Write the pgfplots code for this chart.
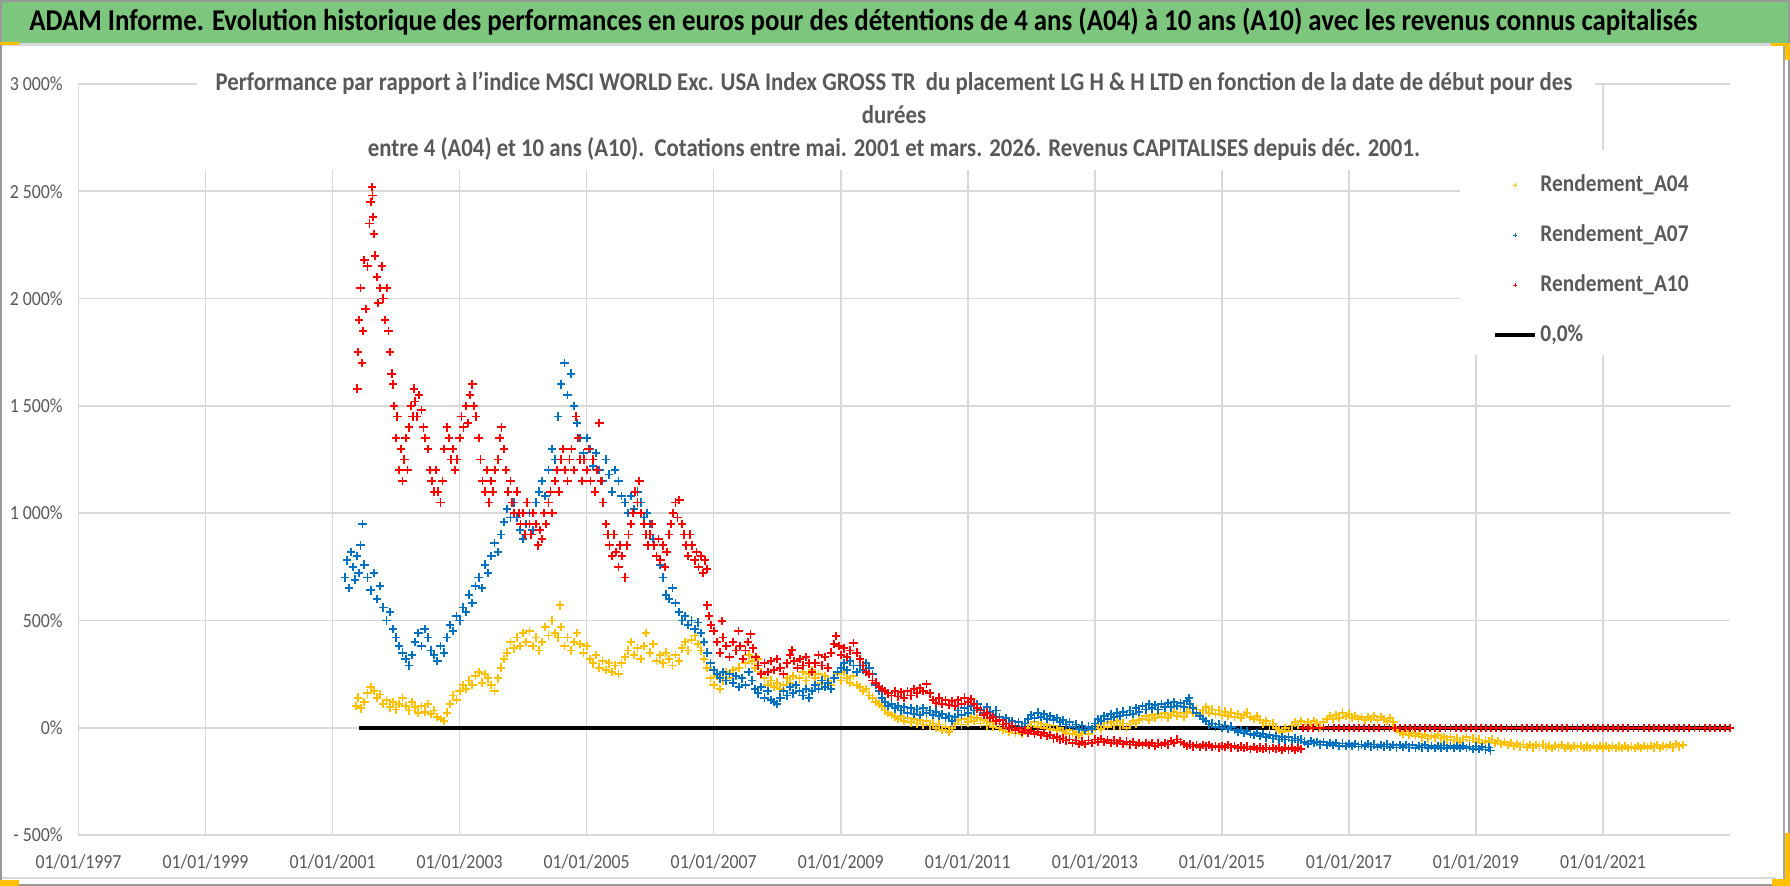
\documentclass[border=0pt]{standalone}
\usepackage{fontspec}
\setmainfont{Carlito}[FakeStretch=0.89]
\usepackage{pgfplots}
\pgfplotsset{compat=1.18}
\definecolor{a04}{HTML}{FFC000}
\definecolor{a07}{HTML}{0070C0}
\definecolor{a10}{HTML}{FF0000}
\definecolor{txtgray}{HTML}{595959}
\definecolor{gridgray}{HTML}{D9D9D9}
\definecolor{titlegreen}{HTML}{7DC67D}
\definecolor{handle}{HTML}{FFC000}
\pgfplotsset{
  legmark/.style={legend image code/.code={\draw[mark repeat=2,mark phase=2,##1,mark size=1pt,line width=0.5pt] plot coordinates {(0pt,0pt)(10pt,0pt)(20pt,0pt)};}},
  legline/.style={legend image code/.code={\draw[##1] (0pt,0pt) -- (20pt,0pt);}},
}
\begin{document}
\begin{tikzpicture}
\useasboundingbox (0,0) rectangle (895pt,443pt);
% chart frame and title band
\fill[white] (0,0) rectangle (895pt,443pt);
\fill[titlegreen] (1pt,421.5pt) rectangle (894pt,442pt);
\draw[gridgray, line width=1.5pt] (1pt,420.8pt) -- (886pt,420.8pt);
\draw[gridgray, line width=1pt] (1pt,4pt) -- (888pt,4pt);
\draw[gray!70, line width=0.8pt] (892pt,2pt) -- (892pt,420pt);
\draw[gray!80, line width=1pt] (0.5pt,0.5pt) rectangle (894.5pt,442.5pt);
\node[anchor=west, inner sep=0pt, font=\fontsize{15.1}{16}\selectfont\bfseries] at (14.5pt,432pt)
  {ADAM Informe. Evolution historique des performances en euros pour des détentions de 4 ans (A04) à 10 ans (A10) avec les revenus connus capitalisés};

\begin{axis}[
  at={(39.25pt,25.5pt)}, anchor=south west,
  scale only axis, width=825.75pt, height=375.5pt,
  xmin=1997, xmax=2023, ymin=-500, ymax=3000,
  axis line style={draw=none},
  major tick length=0pt,
  xtick={1997,1999,2001,2003,2005,2007,2009,2011,2013,2015,2017,2019,2021},
  xticklabels={01/01/1997,01/01/1999,01/01/2001,01/01/2003,01/01/2005,01/01/2007,01/01/2009,01/01/2011,01/01/2013,01/01/2015,01/01/2017,01/01/2019,01/01/2021},
  ytick={-500,0,500,1000,1500,2000,2500,3000},
  yticklabels={- 500\%,0\%,500\%,1 000\%,1 500\%,2 000\%,2 500\%,3 000\%},
  grid=major,
  major grid style={draw=gridgray, line width=0.8pt},
  ticklabel style={text=txtgray, font=\fontsize{10}{11}\selectfont},
  yticklabel style={anchor=east, inner sep=0pt, xshift=-7.75pt},
  xticklabel style={anchor=center, inner sep=0pt, yshift=-13.5pt},
  legend cell align=left,
  legend style={at={(0.8565,0.882)}, anchor=north west, draw=none, fill=none,
    inner sep=0pt, row sep=13pt, column sep=1.5pt,
    font=\fontsize{12}{14}\selectfont\bfseries, text=txtgray,
    nodes={inner sep=0pt, text height=9pt, text depth=3pt}},
  every axis plot/.append style={only marks, mark=+, mark size=2.1pt, line width=0.9pt},
]
\fill[white] (rel axis cs:0.8365,0.639) rectangle (rel axis cs:1,0.912);

\addplot[color=a04, legmark] coordinates {
(2001.37,100) (2001.40,140) (2001.45,90) (2001.50,120) (2001.55,160) (2001.60,190) (2001.65,170) (2001.70,140)
(2001.75,155) (2001.80,110) (2001.85,130) (2001.90,95) (2001.95,120) (2002.00,85) (2002.05,110) (2002.10,140)
(2002.15,100) (2002.20,80) (2002.25,120) (2002.30,95) (2002.35,70) (2002.40,100) (2002.45,75) (2002.50,110)
(2002.55,65) (2002.60,80) (2002.65,50) (2002.70,40) (2002.75,30) (2002.80,70) (2002.85,110) (2002.90,150)
(2002.95,130) (2003.00,170) (2003.05,200) (2003.10,180) (2003.15,220) (2003.20,200) (2003.25,240) (2003.30,260)
(2003.35,210) (2003.40,250) (2003.45,230) (2003.50,200) (2003.55,170) (2003.60,230) (2003.65,280) (2003.70,320)
(2003.75,350) (2003.80,400) (2003.85,370) (2003.90,420) (2003.95,380) (2004.00,440) (2004.05,400) (2004.10,450)
(2004.15,380) (2004.20,420) (2004.25,360) (2004.30,400) (2004.35,470) (2004.40,430) (2004.45,500) (2004.50,440)
(2004.55,420) (2004.58,570) (2004.60,470) (2004.65,380) (2004.70,420) (2004.75,360) (2004.80,400) (2004.85,440)
(2004.90,390) (2004.95,350) (2005.00,380) (2005.05,320) (2005.10,300) (2005.15,340) (2005.20,280) (2005.25,310)
(2005.30,270) (2005.35,300) (2005.40,260) (2005.45,290) (2005.50,250) (2005.55,300) (2005.60,330) (2005.65,360)
(2005.70,400) (2005.75,340) (2005.80,370) (2005.85,320) (2005.90,380) (2005.93,440) (2006.00,350) (2006.05,390)
(2006.10,310) (2006.15,340) (2006.20,300) (2006.25,350) (2006.30,320) (2006.35,290) (2006.40,340) (2006.45,310)
(2006.50,370) (2006.55,400) (2006.60,360) (2006.65,410) (2006.70,430) (2006.75,390) (2006.80,360) (2006.85,320)
(2006.90,280) (2006.95,230) (2007.00,200) (2007.05,240) (2007.10,180) (2007.15,220) (2007.20,260) (2007.25,230)
(2007.30,270) (2007.35,240) (2007.40,280) (2007.45,230) (2007.50,300) (2007.55,340) (2007.60,310) (2007.65,280)
(2007.70,320) (2007.75,260) (2007.80,230) (2007.85,200) (2007.90,220) (2007.95,190) (2008.00,210) (2008.05,180)
(2008.10,200) (2008.15,230) (2008.20,210) (2008.25,240) (2008.30,200) (2008.35,230) (2008.40,260) (2008.45,220)
(2008.50,250) (2008.55,270) (2008.60,230) (2008.65,250) (2008.70,210) (2008.75,240) (2008.80,220) (2008.85,200)
(2008.90,230) (2008.95,250) (2009.00,220) (2009.05,260) (2009.10,230) (2009.15,210) (2009.20,240) (2009.25,200)
(2009.30,190) (2009.35,170) (2009.40,180) (2009.45,150) (2009.50,140) (2009.55,120) (2009.60,110) (2009.65,100)
(2009.70,80) (2009.75,70) (2009.80,60) (2009.85,50) (2009.90,40) (2009.95,55) (2010.00,30) (2010.05,45)
(2010.10,25) (2010.15,40) (2010.20,20) (2010.25,35) (2010.30,15) (2010.35,30) (2010.40,10) (2010.45,20)
(2010.50,0) (2010.55,15) (2010.60,-10) (2010.65,5) (2010.70,-20) (2010.75,0) (2010.80,20) (2010.85,35)
(2010.90,15) (2010.95,40) (2011.00,25) (2011.05,50) (2011.10,30) (2011.15,45) (2011.20,20) (2011.25,35)
(2011.30,10) (2011.35,25) (2011.40,5) (2011.45,20) (2011.50,0) (2011.55,-10) (2011.60,5) (2011.65,-20)
(2011.70,-5) (2011.75,-25) (2011.80,-10) (2011.85,-28) (2011.90,-15) (2011.95,0) (2012.00,10) (2012.05,25)
(2012.10,5) (2012.15,20) (2012.20,0) (2012.25,15) (2012.30,-5) (2012.35,10) (2012.40,-10) (2012.45,0)
(2012.50,-15) (2012.55,-25) (2012.60,-12) (2012.65,-30) (2012.70,-20) (2012.75,-35) (2012.80,-25) (2012.85,-15)
(2012.90,-30) (2012.95,-10) (2013.00,0) (2013.05,15) (2013.10,-5) (2013.15,20) (2013.20,5) (2013.25,25)
(2013.30,10) (2013.35,30) (2013.40,10) (2013.45,20) (2013.50,0) (2013.55,15) (2013.60,30) (2013.65,20)
(2013.70,35) (2013.75,40) (2013.80,55) (2013.85,35) (2013.90,60) (2013.95,45) (2014.00,65) (2014.05,50)
(2014.10,70) (2014.15,45) (2014.20,60) (2014.25,75) (2014.30,55) (2014.35,70) (2014.40,50) (2014.45,75)
(2014.50,90) (2014.55,70) (2014.60,85) (2014.65,60) (2014.70,80) (2014.75,95) (2014.80,70) (2014.85,85)
(2014.90,65) (2014.95,80) (2015.00,60) (2015.05,75) (2015.10,55) (2015.15,70) (2015.20,50) (2015.25,65)
(2015.30,45) (2015.35,60) (2015.40,70) (2015.45,50) (2015.50,40) (2015.55,55) (2015.60,35) (2015.65,20)
(2015.70,30) (2015.75,10) (2015.80,20) (2015.85,0) (2015.90,-10) (2015.95,-20) (2016.00,0) (2016.05,-15)
(2016.10,10) (2016.15,25) (2016.20,15) (2016.25,30) (2016.30,15) (2016.35,25) (2016.40,10) (2016.45,30)
(2016.50,20) (2016.55,5) (2016.60,25) (2016.65,40) (2016.70,55) (2016.75,40) (2016.80,60) (2016.85,45)
(2016.90,70) (2016.95,55) (2017.00,65) (2017.05,45) (2017.10,55) (2017.15,40) (2017.20,50) (2017.25,35)
(2017.30,50) (2017.35,40) (2017.40,55) (2017.45,35) (2017.50,50) (2017.55,40) (2017.60,30) (2017.65,45)
(2017.70,25) (2017.75,-10) (2017.80,-20) (2017.85,-30) (2017.90,-15) (2017.95,-35) (2018.00,-25) (2018.05,-40)
(2018.10,-30) (2018.15,-45) (2018.20,-35) (2018.25,-50) (2018.30,-40) (2018.35,-45) (2018.40,-35) (2018.45,-50)
(2018.50,-45) (2018.55,-55) (2018.60,-45) (2018.65,-60) (2018.70,-50) (2018.75,-65) (2018.80,-55) (2018.85,-45)
(2018.90,-60) (2018.95,-50) (2019.00,-65) (2019.05,-55) (2019.10,-70) (2019.15,-60) (2019.20,-65) (2019.25,-55)
(2019.30,-70) (2019.35,-62) (2019.40,-75) (2019.45,-68) (2019.50,-80) (2019.55,-72) (2019.60,-85) (2019.65,-76)
(2019.70,-88) (2019.75,-78) (2019.80,-90) (2019.85,-80) (2019.90,-92) (2019.95,-82) (2020.00,-88) (2020.05,-78)
(2020.10,-92) (2020.15,-84) (2020.20,-95) (2020.25,-85) (2020.30,-92) (2020.35,-82) (2020.40,-94) (2020.45,-86)
(2020.50,-96) (2020.55,-86) (2020.60,-92) (2020.65,-84) (2020.70,-95) (2020.75,-87) (2020.80,-96) (2020.85,-86)
(2020.90,-94) (2020.95,-85) (2021.00,-93) (2021.05,-84) (2021.10,-95) (2021.15,-87) (2021.20,-96) (2021.25,-88)
(2021.30,-94) (2021.35,-85) (2021.40,-96) (2021.45,-88) (2021.50,-95) (2021.55,-86) (2021.60,-94) (2021.65,-85)
(2021.70,-93) (2021.75,-84) (2021.80,-92) (2021.85,-82) (2021.90,-94) (2021.95,-84) (2022.00,-90) (2022.05,-80)
(2022.10,-92) (2022.15,-76) (2022.20,-88) (2022.26,-82)
};
\addlegendentry{Rendement\_A04}

\addplot[color=a07, legmark] coordinates {
(2001.20,700) (2001.23,780) (2001.26,650) (2001.29,820) (2001.32,750) (2001.35,690) (2001.38,800) (2001.41,720)
(2001.44,850) (2001.47,950) (2001.50,760) (2001.55,700) (2001.60,640) (2001.65,720) (2001.70,600) (2001.75,660)
(2001.80,560) (2001.85,500) (2001.90,540) (2001.95,460) (2002.00,420) (2002.05,380) (2002.10,350) (2002.15,320)
(2002.20,290) (2002.25,340) (2002.30,400) (2002.35,440) (2002.40,380) (2002.45,460) (2002.50,420) (2002.55,360)
(2002.60,340) (2002.65,310) (2002.70,380) (2002.75,350) (2002.80,420) (2002.85,480) (2002.90,450) (2002.95,520)
(2003.00,500) (2003.05,560) (2003.10,540) (2003.15,620) (2003.20,580) (2003.25,660) (2003.30,700) (2003.35,650)
(2003.40,760) (2003.45,720) (2003.50,800) (2003.55,860) (2003.60,820) (2003.65,900) (2003.70,960) (2003.75,1020)
(2003.80,980) (2003.85,1050) (2003.90,980) (2003.95,920) (2004.00,880) (2004.05,950) (2004.10,1000) (2004.15,920)
(2004.20,1050) (2004.25,1100) (2004.30,1150) (2004.35,1080) (2004.40,1200) (2004.45,1300) (2004.50,1250) (2004.55,1450)
(2004.60,1600) (2004.65,1700) (2004.70,1550) (2004.75,1650) (2004.80,1500) (2004.85,1420) (2004.90,1350) (2004.95,1280)
(2005.00,1350) (2005.05,1300) (2005.10,1220) (2005.15,1280) (2005.20,1200) (2005.25,1150) (2005.30,1250) (2005.35,1180)
(2005.40,1100) (2005.45,1200) (2005.50,1150) (2005.55,1080) (2005.60,1050) (2005.65,1000) (2005.70,1080) (2005.75,1020)
(2005.80,1100) (2005.85,1050) (2005.90,980) (2005.95,1000) (2006.00,950) (2006.05,880) (2006.10,800) (2006.15,760)
(2006.20,700) (2006.25,620) (2006.30,600) (2006.35,650) (2006.40,580) (2006.45,540) (2006.50,500) (2006.55,520)
(2006.60,480) (2006.65,500) (2006.70,460) (2006.75,490) (2006.80,440) (2006.85,400) (2006.90,350) (2006.95,300)
(2007.00,270) (2007.05,250) (2007.10,230) (2007.15,260) (2007.20,220) (2007.25,250) (2007.30,210) (2007.35,240)
(2007.40,190) (2007.45,230) (2007.50,200) (2007.55,260) (2007.60,220) (2007.65,180) (2007.70,160) (2007.75,190)
(2007.80,140) (2007.85,170) (2007.90,130) (2007.95,120) (2008.00,110) (2008.05,140) (2008.10,170) (2008.15,150)
(2008.20,190) (2008.25,160) (2008.30,200) (2008.35,170) (2008.40,150) (2008.45,180) (2008.50,140) (2008.55,170)
(2008.60,200) (2008.65,180) (2008.70,220) (2008.75,190) (2008.80,210) (2008.85,180) (2008.90,230) (2008.95,260)
(2009.00,280) (2009.05,300) (2009.10,270) (2009.15,310) (2009.20,290) (2009.25,260) (2009.30,290) (2009.35,270)
(2009.40,300) (2009.45,280) (2009.50,250) (2009.55,200) (2009.60,170) (2009.65,140) (2009.70,120) (2009.75,100)
(2009.80,110) (2009.85,90) (2009.90,100) (2009.95,80) (2010.00,95) (2010.05,70) (2010.10,90) (2010.15,65)
(2010.20,85) (2010.25,60) (2010.30,90) (2010.35,70) (2010.40,80) (2010.45,60) (2010.50,75) (2010.55,55)
(2010.60,65) (2010.65,45) (2010.70,55) (2010.75,30) (2010.80,50) (2010.85,80) (2010.90,60) (2010.95,90)
(2011.00,70) (2011.05,100) (2011.10,80) (2011.15,110) (2011.20,85) (2011.25,70) (2011.30,95) (2011.35,75)
(2011.40,60) (2011.45,80) (2011.50,50) (2011.55,35) (2011.60,45) (2011.65,20) (2011.70,30) (2011.75,10)
(2011.80,25) (2011.85,5) (2011.90,20) (2011.95,40) (2012.00,60) (2012.05,45) (2012.10,70) (2012.15,50)
(2012.20,65) (2012.25,40) (2012.30,55) (2012.35,35) (2012.40,45) (2012.45,25) (2012.50,35) (2012.55,15)
(2012.60,25) (2012.65,5) (2012.70,15) (2012.75,-5) (2012.80,10) (2012.85,-10) (2012.90,5) (2012.95,-5)
(2013.00,20) (2013.05,40) (2013.10,30) (2013.15,55) (2013.20,40) (2013.25,65) (2013.30,50) (2013.35,70)
(2013.40,55) (2013.45,75) (2013.50,60) (2013.55,80) (2013.60,65) (2013.65,90) (2013.70,75) (2013.75,100)
(2013.80,85) (2013.85,110) (2013.90,90) (2013.95,105) (2014.00,85) (2014.05,110) (2014.10,95) (2014.15,115)
(2014.20,95) (2014.25,120) (2014.30,100) (2014.35,115) (2014.40,95) (2014.45,125) (2014.48,138) (2014.50,110)
(2014.55,90) (2014.60,70) (2014.65,55) (2014.70,40) (2014.75,30) (2014.80,15) (2014.85,20) (2014.90,5)
(2014.95,15) (2015.00,0) (2015.05,10) (2015.10,-5) (2015.15,5) (2015.20,-10) (2015.25,-20) (2015.30,-10)
(2015.35,-25) (2015.40,-15) (2015.45,-30) (2015.50,-35) (2015.55,-25) (2015.60,-40) (2015.65,-30) (2015.70,-45)
(2015.75,-35) (2015.80,-50) (2015.85,-40) (2015.90,-55) (2015.95,-45) (2016.00,-55) (2016.05,-45) (2016.10,-60)
(2016.15,-50) (2016.20,-60) (2016.25,-55) (2016.30,-65) (2016.35,-75) (2016.40,-62) (2016.45,-72) (2016.50,-66)
(2016.55,-78) (2016.60,-68) (2016.65,-80) (2016.70,-70) (2016.75,-82) (2016.80,-72) (2016.85,-84) (2016.90,-74)
(2016.95,-85) (2017.00,-75) (2017.05,-86) (2017.10,-76) (2017.15,-88) (2017.20,-78) (2017.25,-86) (2017.30,-76)
(2017.35,-88) (2017.40,-78) (2017.45,-90) (2017.50,-80) (2017.55,-88) (2017.60,-78) (2017.65,-90) (2017.70,-80)
(2017.75,-92) (2017.80,-82) (2017.85,-90) (2017.90,-80) (2017.95,-92) (2018.00,-82) (2018.05,-94) (2018.10,-84)
(2018.15,-92) (2018.20,-82) (2018.25,-94) (2018.30,-84) (2018.35,-95) (2018.40,-85) (2018.45,-93) (2018.50,-83)
(2018.55,-95) (2018.60,-85) (2018.65,-96) (2018.70,-86) (2018.75,-94) (2018.80,-84) (2018.85,-96) (2018.90,-88)
(2018.95,-98) (2019.00,-88) (2019.05,-100) (2019.10,-90) (2019.15,-102) (2019.20,-92) (2019.23,-106)
};
\addlegendentry{Rendement\_A07}

\addplot[black, line width=2pt, no marks, sharp plot, forget plot] coordinates {(2001.42,0) (2023,0)};

\addplot[color=a10, legmark] coordinates {
(2001.39,1580) (2001.40,1750) (2001.42,1900) (2001.44,2050) (2001.46,1700) (2001.48,1850) (2001.50,2180) (2001.52,1950)
(2001.55,2150) (2001.58,2350) (2001.60,2450) (2001.62,2520) (2001.63,2480) (2001.64,2380) (2001.65,2300) (2001.67,2200)
(2001.70,2100) (2001.72,1980) (2001.75,2050) (2001.78,2150) (2001.80,2000) (2001.83,1900) (2001.86,2050) (2001.88,1850)
(2001.90,1750) (2001.93,1650) (2001.95,1600) (2001.97,1500) (2002.00,1350) (2002.02,1450) (2002.05,1200) (2002.08,1300)
(2002.10,1150) (2002.13,1250) (2002.15,1350) (2002.18,1200) (2002.20,1400) (2002.23,1500) (2002.26,1450) (2002.28,1580)
(2002.30,1520) (2002.33,1450) (2002.36,1550) (2002.40,1480) (2002.43,1400) (2002.46,1350) (2002.50,1300) (2002.53,1200)
(2002.56,1150) (2002.60,1100) (2002.63,1200) (2002.66,1100) (2002.70,1050) (2002.73,1150) (2002.76,1300) (2002.80,1400)
(2002.83,1350) (2002.86,1250) (2002.90,1300) (2002.93,1200) (2002.96,1250) (2003.00,1350) (2003.03,1450) (2003.06,1400)
(2003.10,1500) (2003.13,1420) (2003.16,1550) (2003.20,1600) (2003.23,1500) (2003.26,1450) (2003.30,1350) (2003.33,1250)
(2003.36,1150) (2003.40,1100) (2003.43,1200) (2003.46,1050) (2003.50,1150) (2003.53,1100) (2003.56,1200) (2003.60,1250)
(2003.63,1350) (2003.66,1400) (2003.70,1300) (2003.73,1200) (2003.76,1100) (2003.80,1150) (2003.83,1050) (2003.86,1000)
(2003.90,1100) (2003.93,1000) (2003.96,950) (2004.00,1000) (2004.03,900) (2004.06,1050) (2004.10,950) (2004.13,900)
(2004.16,1000) (2004.20,950) (2004.23,850) (2004.26,920) (2004.30,880) (2004.33,1000) (2004.36,950) (2004.40,1050)
(2004.43,1100) (2004.46,1000) (2004.50,1150) (2004.53,1200) (2004.56,1100) (2004.60,1250) (2004.63,1300) (2004.66,1200)
(2004.70,1150) (2004.73,1250) (2004.76,1300) (2004.80,1200) (2004.83,1450) (2004.86,1350) (2004.90,1250) (2004.93,1150)
(2004.96,1250) (2005.00,1200) (2005.03,1300) (2005.06,1150) (2005.10,1250) (2005.13,1100) (2005.16,1200) (2005.20,1420)
(2005.23,1150) (2005.26,1050) (2005.30,950) (2005.33,900) (2005.36,850) (2005.40,800) (2005.43,900) (2005.46,820)
(2005.50,750) (2005.53,850) (2005.56,800) (2005.60,700) (2005.63,850) (2005.66,900) (2005.70,950) (2005.73,1000)
(2005.76,1100) (2005.80,1050) (2005.83,1150) (2005.86,1000) (2005.90,950) (2005.93,900) (2005.96,850) (2006.00,900)
(2006.03,950) (2006.06,850) (2006.10,800) (2006.13,880) (2006.16,780) (2006.20,850) (2006.23,750) (2006.26,820)
(2006.30,900) (2006.33,950) (2006.36,1000) (2006.40,1050) (2006.43,980) (2006.46,1060) (2006.50,950) (2006.53,900)
(2006.56,850) (2006.60,800) (2006.63,900) (2006.66,850) (2006.70,780) (2006.73,820) (2006.76,750) (2006.80,800)
(2006.83,720) (2006.86,780) (2006.89,740)
(2006.90,570) (2006.93,520) (2006.96,480) (2007.00,450) (2007.05,400) (2007.10,350) (2007.13,497) (2007.15,420)
(2007.20,380) (2007.25,330) (2007.30,400) (2007.35,360) (2007.39,450) (2007.42,380) (2007.46,320) (2007.50,360)
(2007.54,400) (2007.58,435) (2007.62,370) (2007.66,330) (2007.70,290) (2007.75,250) (2007.80,300) (2007.85,260)
(2007.90,310) (2007.95,270) (2008.00,320) (2008.05,280) (2008.10,250) (2008.15,300) (2008.20,340) (2008.23,362)
(2008.27,310) (2008.32,280) (2008.36,320) (2008.40,290) (2008.45,330) (2008.50,300) (2008.55,260) (2008.60,300)
(2008.65,340) (2008.70,290) (2008.75,330) (2008.80,280) (2008.85,350) (2008.90,390) (2008.93,427) (2008.97,380)
(2009.00,340) (2009.05,370) (2009.10,330) (2009.15,360) (2009.20,396) (2009.25,350) (2009.30,320) (2009.35,290)
(2009.40,260) (2009.45,250) (2009.50,220) (2009.55,210) (2009.60,190) (2009.65,180) (2009.70,170) (2009.75,160)
(2009.80,150) (2009.85,170) (2009.90,145) (2009.95,165) (2010.00,140) (2010.05,170) (2010.10,150) (2010.15,180)
(2010.20,160) (2010.25,185) (2010.30,170) (2010.35,205) (2010.40,160) (2010.45,130) (2010.50,115) (2010.55,140)
(2010.60,110) (2010.65,130) (2010.70,105) (2010.75,125) (2010.80,100) (2010.85,130) (2010.90,110) (2010.95,140)
(2011.00,120) (2011.05,135) (2011.10,110) (2011.15,90) (2011.20,80) (2011.25,60) (2011.30,70) (2011.35,45)
(2011.40,50) (2011.45,30) (2011.50,35) (2011.55,15) (2011.60,20) (2011.65,0) (2011.70,10) (2011.75,-10)
(2011.80,0) (2011.85,-20) (2011.90,-10) (2011.95,-25) (2012.00,-15) (2012.05,-30) (2012.10,-20) (2012.15,-35)
(2012.20,-25) (2012.25,-40) (2012.30,-35) (2012.35,-50) (2012.40,-45) (2012.45,-55) (2012.50,-50) (2012.55,-60)
(2012.60,-55) (2012.65,-70) (2012.70,-60) (2012.75,-75) (2012.80,-65) (2012.85,-75) (2012.90,-60) (2012.95,-70)
(2013.00,-55) (2013.05,-65) (2013.10,-52) (2013.15,-68) (2013.20,-58) (2013.25,-70) (2013.30,-60) (2013.35,-72)
(2013.40,-62) (2013.45,-75) (2013.50,-65) (2013.55,-78) (2013.60,-68) (2013.65,-80) (2013.70,-72) (2013.75,-82)
(2013.80,-70) (2013.85,-80) (2013.90,-72) (2013.95,-84) (2014.00,-74) (2014.05,-82) (2014.10,-70) (2014.15,-78)
(2014.20,-62) (2014.25,-70) (2014.30,-55) (2014.35,-68) (2014.40,-75) (2014.45,-85) (2014.50,-78) (2014.55,-88)
(2014.60,-80) (2014.65,-90) (2014.70,-82) (2014.75,-88) (2014.80,-80) (2014.85,-90) (2014.90,-84) (2014.95,-92)
(2015.00,-84) (2015.05,-90) (2015.10,-82) (2015.15,-92) (2015.20,-86) (2015.25,-95) (2015.30,-88) (2015.35,-96)
(2015.40,-88) (2015.45,-98) (2015.50,-90) (2015.55,-100) (2015.60,-92) (2015.65,-100) (2015.70,-92) (2015.75,-102)
(2015.80,-94) (2015.85,-100) (2015.90,-94) (2015.95,-104) (2016.00,-96) (2016.05,-102) (2016.10,-94) (2016.15,-104)
(2016.20,-96) (2016.24,-100)
(2016.28,0) (2016.36,0) (2016.44,0) (2016.52,0) (2016.60,0) (2016.68,0) (2016.76,0) (2016.84,0) (2016.92,0)
(2017.00,0) (2017.08,0) (2017.16,0) (2017.24,0) (2017.32,0) (2017.40,0) (2017.48,0) (2017.56,0) (2017.64,0)
(2017.72,0) (2017.80,0) (2017.88,0) (2017.96,0) (2018.04,0) (2018.12,0) (2018.20,0) (2018.28,0) (2018.36,0)
(2018.44,0) (2018.52,0) (2018.60,0) (2018.68,0) (2018.76,0) (2018.84,0) (2018.92,0) (2019.00,0) (2019.08,0)
(2019.16,0) (2019.24,0) (2019.32,0) (2019.40,0) (2019.48,0) (2019.56,0) (2019.64,0) (2019.72,0) (2019.80,0)
(2019.88,0) (2019.96,0) (2020.04,0) (2020.12,0) (2020.20,0) (2020.28,0) (2020.36,0) (2020.44,0) (2020.52,0)
(2020.60,0) (2020.68,0) (2020.76,0) (2020.84,0) (2020.92,0) (2021.00,0) (2021.08,0) (2021.16,0) (2021.24,0)
(2021.32,0) (2021.40,0) (2021.48,0) (2021.56,0) (2021.64,0) (2021.72,0) (2021.80,0) (2021.88,0) (2021.96,0)
(2022.04,0) (2022.12,0) (2022.20,0) (2022.28,0) (2022.36,0) (2022.44,0) (2022.52,0) (2022.60,0) (2022.68,0)
(2022.76,0) (2022.84,0) (2022.92,0) (2023.00,0)
};
\addlegendentry{Rendement\_A10}

\addlegendimage{black, line width=2pt, legline}
\addlegendentry{0,0\%}
\end{axis}

% chart subtitle over the plot area
\fill[white] (98.5pt,358pt) rectangle (797.5pt,410pt);
\node[align=center, text=txtgray, inner sep=0pt, font=\fontsize{12.8}{16.5}\selectfont\bfseries] at (447pt,385pt)
  {Performance par rapport à l'indice MSCI WORLD Exc. USA Index GROSS TR\ \ du placement LG H \& H LTD en fonction de la date de début pour des\\
   durées\\
   entre 4 (A04) et 10 ans (A10).\ \ Cotations entre mai. 2001 et mars. 2026. Revenus CAPITALISES depuis déc. 2001.};

% selection handles
\fill[handle] (0pt,0pt) rectangle (9.5pt,3pt);
\fill[handle] (886pt,0pt) rectangle (895pt,3.5pt);
\fill[handle] (892.5pt,0pt) rectangle (895pt,26.5pt);
\fill[handle] (885.5pt,420pt) rectangle (895pt,421.5pt);
\fill[handle] (892.5pt,413pt) rectangle (895pt,421.5pt);
\fill[handle] (0pt,420.5pt) rectangle (9.5pt,422pt);
\end{tikzpicture}
\end{document}
